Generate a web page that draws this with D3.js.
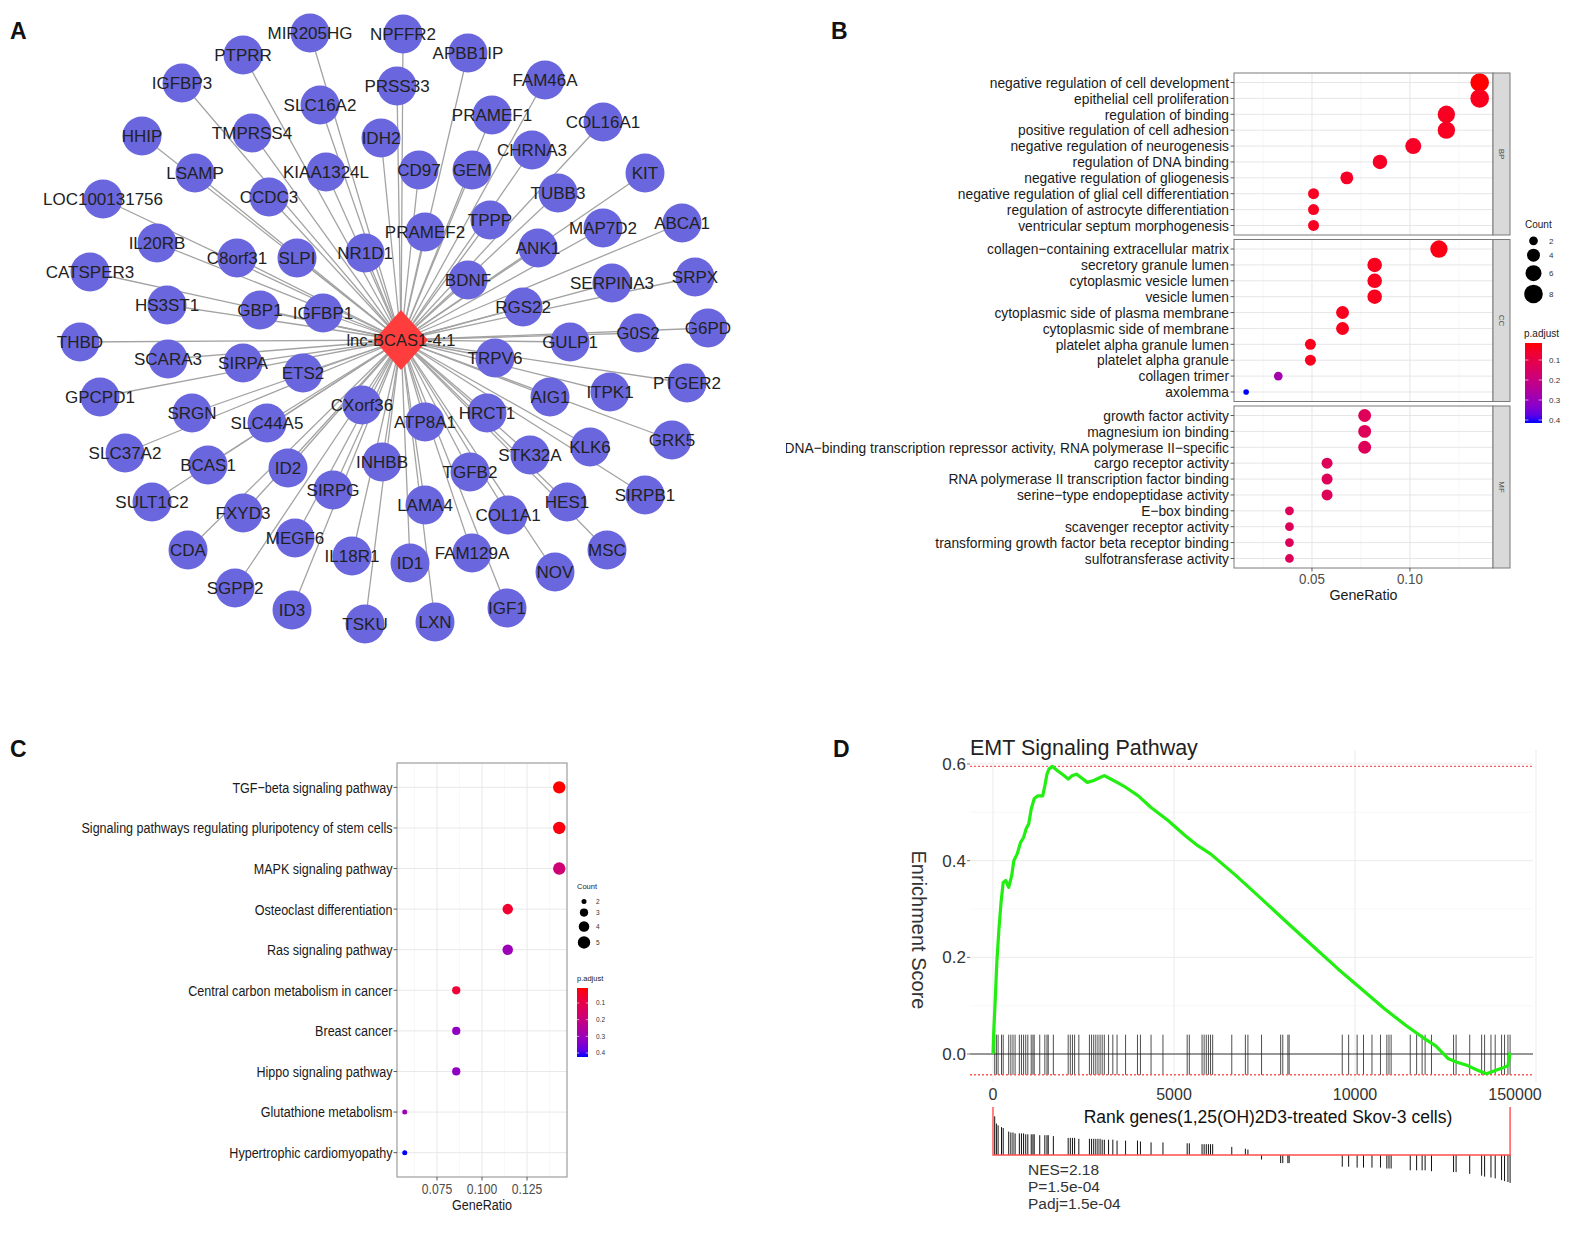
<!DOCTYPE html>
<html>
<head>
<meta charset="utf-8">
<script src="https://cdn.jsdelivr.net/npm/d3@7/dist/d3.min.js"></script>
<style>
  body { margin: 0; background: #fff; }
  svg { display: block; }
  text { font-family: "Liberation Sans", Arial, sans-serif; }
</style>
</head>
<body>
<div id="fig"></div>
<script>
// ---------- panel A : lncRNA - mRNA network ----------
const hubName = "lnc-BCAS1-4:1";
// gene, layout x, layout y (relative to the hub)
const geneNames = ["MIR205HG","NPFFR2","PTPRR","APBB1IP","IGFBP3","FAM46A","PRSS33","SLC16A2","PRAMEF1","COL16A1",
  "HHIP","TMPRSS4","IDH2","CHRNA3","CD97","GEM","KIT","LSAMP","KIAA1324L","TUBB3",
  "CCDC3","LOC100131756","TPPP","ABCA1","MAP7D2","PRAMEF2","IL20RB","ANK1","NR1D1","C8orf31",
  "SLPI","CATSPER3","SRPX","BDNF","SERPINA3","HS3ST1","RGS22","GBP1","IGFBP1","G6PD",
  "G0S2","THBD","GULP1","SCARA3","TRPV6","SIRPA","ETS2","PTGER2","ITPK1","AIG1",
  "GPCPD1","CXorf36","SRGN","HRCT1","ATP8A1","SLC44A5","GRK5","KLK6","SLC37A2","STK32A",
  "INHBB","BCAS1","ID2","TGFB2","SIRPG","SIRPB1","SULT1C2","HES1","LAMA4","FXYD3",
  "COL1A1","MEGF6","CDA","MSC","FAM129A","IL18R1","ID1","NOV","SGPP2","IGF1",
  "ID3","LXN","TSKU"];
const geneLayoutX = [-91,2,-158,67,-219,144,-4,-81,91,202,
  -259,-149,-20,131,18,71,244,-206,-75,157,
  -132,-298,89,281,202,24,-244,137,-36,-164,
  -104,-311,294,67,211,-234,122,-141,-78,307,
  237,-321,169,-233,94,-158,-98,286,209,149,
  -301,-39,-209,86,24,-134,271,189,-276,129,
  -19,-193,-113,69,-68,244,-249,166,24,-158,
  107,-106,-213,206,71,-49,9,154,-166,106,
  -109,34,-36];
const geneLayoutY = [-307,-306,-285,-287,-257,-260,-254,-235,-225,-218,
  -204,-207,-202,-190,-170,-170,-167,-167,-168,-147,
  -143,-141,-120,-117,-112,-108,-97,-92,-87,-82,
  -82,-68,-63,-60,-57,-35,-33,-30,-27,-12,
  -7,2,2,19,18,23,33,43,52,57,
  57,65,73,73,82,83,100,107,113,115,
  122,125,128,132,150,155,162,162,165,173,
  175,198,210,210,213,216,223,232,248,268,
  270,282,284];

// ---------- panel B : GO enrichment ----------
const goOntologies = ["BP", "CC", "MF"];
const bpTerms = ["negative regulation of cell development","epithelial cell proliferation","regulation of binding",
  "positive regulation of cell adhesion","negative regulation of neurogenesis","regulation of DNA binding",
  "negative regulation of gliogenesis","negative regulation of glial cell differentiation",
  "regulation of astrocyte differentiation","ventricular septum morphogenesis"];
const bpRatio = [0.1356,0.1356,0.1186,0.1186,0.1017,0.0847,0.0678,0.0508,0.0508,0.0508];
const bpCount = [8,8,7,7,6,5,4,3,3,3];
const bpPadj = [0.015,0.04,0.045,0.045,0.05,0.05,0.05,0.045,0.045,0.045];
const ccTerms = ["collagen\u2212containing extracellular matrix","secretory granule lumen","cytoplasmic vesicle lumen",
  "vesicle lumen","cytoplasmic side of plasma membrane","cytoplasmic side of membrane",
  "platelet alpha granule lumen","platelet alpha granule","collagen trimer","axolemma"];
const ccRatio = [0.1148,0.0820,0.0820,0.0820,0.0656,0.0656,0.0492,0.0492,0.0328,0.0164];
const ccCount = [7,5,5,5,4,4,3,3,2,1];
const ccPadj = [0.03,0.04,0.04,0.04,0.04,0.04,0.04,0.04,0.28,0.415];
const mfTerms = ["growth factor activity","magnesium ion binding",
  "DNA\u2212binding transcription repressor activity, RNA polymerase II\u2212specific",
  "cargo receptor activity","RNA polymerase II transcription factor binding","serine\u2212type endopeptidase activity",
  "E\u2212box binding","scavenger receptor activity","transforming growth factor beta receptor binding",
  "sulfotransferase activity"];
const mfRatio = [0.0769,0.0769,0.0769,0.0577,0.0577,0.0577,0.0385,0.0385,0.0385,0.0385];
const mfCount = [4,4,4,3,3,3,2,2,2,2];
const mfPadj = [0.13,0.13,0.13,0.13,0.13,0.13,0.13,0.13,0.13,0.13];
const goXTicks = [0.05, 0.10];
const goCountBreaks = [2, 4, 6, 8];
const goPadjBreaks = [0.1, 0.2, 0.3, 0.4];

// ---------- panel C : KEGG enrichment ----------
const keggTerms = ["TGF\u2212beta signaling pathway","Signaling pathways regulating pluripotency of stem cells",
  "MAPK signaling pathway","Osteoclast differentiation","Ras signaling pathway",
  "Central carbon metabolism in cancer","Breast cancer","Hippo signaling pathway",
  "Glutathione metabolism","Hypertrophic cardiomyopathy"];
const keggRatio = [0.1429,0.1429,0.1429,0.1143,0.1143,0.0857,0.0857,0.0857,0.0571,0.0571];
const keggCount = [5,5,5,4,4,3,3,3,2,2];
const keggPadj = [0.01,0.02,0.18,0.06,0.30,0.07,0.32,0.32,0.30,0.424];
const keggXTicks = [0.075, 0.100, 0.125];
const keggCountBreaks = [2, 3, 4, 5];
const keggPadjBreaks = [0.1, 0.2, 0.3, 0.4];

// ---------- panel D : GSEA running score ----------
const esRank = [0,23,59,106,164,223,282,352,434,516,575,669,763,845,915,986,1056,1138,1232,1373,
  1432,1491,1549,1643,1784,1960,2077,2195,2312,2430,2606,2782,2958,3075,3251,3427,3662,4014,4366,4836,
  5305,5657,6009,6714,7418,8122,8826,9531,10235,10822,11408,11878,12230,12582,12817,13110,13404,13638,13873,14108,
  14225,14284];
const esScore = [0,0.05,0.107,0.19,0.259,0.314,0.355,0.359,0.345,0.369,0.40,0.414,0.438,0.448,0.466,0.476,0.507,0.528,0.534,0.534,
  0.555,0.579,0.59,0.595,0.586,0.576,0.569,0.576,0.579,0.572,0.562,0.566,0.572,0.576,0.569,0.562,0.552,0.534,0.510,0.483,
  0.452,0.431,0.414,0.369,0.321,0.272,0.224,0.176,0.131,0.093,0.059,0.034,0.017,-0.010,-0.017,-0.024,-0.034,-0.041,-0.034,-0.028,
  -0.024,0.003];
const hitRank = [47,94,141,235,282,434,493,552,610,728,786,845,904,962,1056,1103,1138,1291,1432,1491,
  1526,1667,2077,2136,2195,2254,2371,2664,2723,2782,2840,2899,2958,3016,3075,3192,3310,3427,3662,3991,
  4073,4366,4695,5364,5423,5775,5833,5892,5951,6009,6068,6596,6972,7042,7418,7946,8005,8146,8181,9648,
  9824,10059,10235,10469,10704,10880,10939,10998,11526,11702,11854,11937,12113,12723,12793,13169,13498,13580,13756,13873,
  14049,14131,14225,14284];
const hitMetric = [4.3,3.5,3.3,3.1,3.0,2.6,2.5,2.5,2.4,2.4,2.4,2.4,2.3,2.3,2.3,2.3,2.3,2.2,2.2,2.2,
  2.2,2.1,1.9,1.9,1.9,1.9,1.8,1.8,1.8,1.8,1.8,1.8,1.8,1.7,1.7,1.7,1.7,1.6,1.6,1.6,
  1.5,1.4,1.4,1.3,1.3,1.2,1.2,1.2,1.2,1.2,1.2,0.9,0.7,0.6,-0.5,-0.9,-0.9,-0.9,-0.9,-1.3,
  -1.3,-1.4,-1.4,-1.4,-1.4,-1.5,-1.5,-1.5,-1.7,-1.7,-1.7,-1.7,-1.8,-1.9,-1.9,-2.1,-2.3,-2.4,-2.5,-2.6,
  -2.8,-2.9,-3.0,-3.1];
const esMax = 0.595, esMin = -0.043, listSize = 14284;
const rankTicks = [0, 5000, 10000, 15000];
const rankTickLabels = ["0", "5000", "10000", "150000"];
const esTicks = [0.0, 0.2, 0.4, 0.6];
const gseaStats = ["NES=2.18", "P=1.5e-04", "Padj=1.5e-04"];

// =====================================================================
const W = 1569, H = 1240;
const svg = d3.select("#fig").append("svg")
  .attr("width", W).attr("height", H)
  .attr("viewBox", `0 0 ${W} ${H}`);
svg.append("rect").attr("width", W).attr("height", H).attr("fill", "#fff");
const defs = svg.append("defs");

// panel letters
[["A", 10, 39], ["B", 831, 39], ["C", 10, 757], ["D", 833, 757]].forEach(d => {
  svg.append("text").attr("x", d[1]).attr("y", d[2])
    .attr("font-size", 23).attr("font-weight", "bold").attr("fill", "#111").text(d[0]);
});

// ---------------- A ----------------
(function drawNetwork() {
  const g = svg.append("g");
  const x = d3.scaleLinear().domain([-400, 400]).range([1, 801]);
  const y = d3.scaleLinear().domain([-340, 340]).range([0, 680]);
  const nodes = geneNames.map((n, i) => ({ name: n, x: x(geneLayoutX[i]), y: y(geneLayoutY[i]) }));
  const hx = x(0), hy = y(0);

  g.selectAll("line.edge").data(nodes).enter().append("line")
    .attr("class", "edge")
    .attr("x1", hx).attr("y1", hy)
    .attr("x2", d => d.x).attr("y2", d => d.y)
    .attr("stroke", "#a3a3a3").attr("stroke-width", 1.3);

  g.selectAll("circle.node").data(nodes).enter().append("circle")
    .attr("class", "node")
    .attr("cx", d => d.x).attr("cy", d => d.y).attr("r", 19.5)
    .attr("fill", "#6a66dd");

  g.append("path")
    .attr("d", `M${hx},${hy - 30} L${hx + 27},${hy} L${hx},${hy + 30} L${hx - 27},${hy} Z`)
    .attr("fill", "#ff3d3d");

  g.selectAll("text.lab").data(nodes).enter().append("text")
    .attr("class", "lab")
    .attr("x", d => d.x).attr("y", d => d.y).attr("dy", "0.36em")
    .attr("text-anchor", "middle").attr("font-size", 17).attr("fill", "#222")
    .text(d => d.name);

  g.append("text").attr("x", hx).attr("y", hy).attr("dy", "0.36em")
    .attr("text-anchor", "middle").attr("font-size", 16.5).attr("fill", "#222").text(hubName);
})();

// shared helpers for the dot plots
function areaSize(domain, rRange) {
  const a = d3.scaleLinear().domain(domain).range([rRange[0] * rRange[0], rRange[1] * rRange[1]]);
  return v => Math.sqrt(a(v));
}
function padjColor(domain) {
  return d3.scaleLinear().domain(domain).range(["#ff0000", "#0000ff"]).interpolate(d3.interpolateLab);
}
// the source figure squeezed the ggplot panels sideways: draw text condensed
function narrowText(g, x, y, txt, fs, sx, anchor, fill) {
  return g.append("text")
    .attr("transform", `translate(${x},${y}) scale(${sx},1)`)
    .attr("dy", "0.35em").attr("text-anchor", anchor)
    .attr("font-size", fs).attr("fill", fill).text(txt);
}
function colorbar(g, id, col, domain, x0, y0, w, h, breaks, fs, labX) {
  const grad = defs.append("linearGradient").attr("id", id)
    .attr("x1", 0).attr("y1", 0).attr("x2", 0).attr("y2", 1);
  d3.range(0, 1.0001, 0.1).forEach(t => {
    grad.append("stop").attr("offset", t)
      .attr("stop-color", col(domain[0] + t * (domain[1] - domain[0])));
  });
  g.append("rect").attr("x", x0).attr("y", y0).attr("width", w).attr("height", h)
    .attr("fill", `url(#${id})`);
  const py = d3.scaleLinear().domain(domain).range([y0, y0 + h]);
  breaks.forEach(b => {
    g.append("line").attr("x1", x0).attr("x2", x0 + w * 0.2)
      .attr("y1", py(b)).attr("y2", py(b)).attr("stroke", "#fff").attr("stroke-width", 0.6);
    g.append("line").attr("x1", x0 + w * 0.8).attr("x2", x0 + w)
      .attr("y1", py(b)).attr("y2", py(b)).attr("stroke", "#fff").attr("stroke-width", 0.6);
    g.append("text").attr("x", labX).attr("y", py(b)).attr("dy", "0.35em")
      .attr("font-size", fs).attr("fill", "#333").text(b.toFixed(1));
  });
}

// ---------------- B ----------------
(function drawGO() {
  defs.append("clipPath").attr("id", "clipB")
    .append("rect").attr("x", 786).attr("y", 0).attr("width", W - 786).attr("height", 700);
  const g = svg.append("g").attr("clip-path", "url(#clipB)");
  const x = d3.scaleLinear().domain([0.0102, 0.1424]).range([1234, 1493]);
  const facet = d3.scaleBand().domain(goOntologies).range([73, 568]).paddingInner(0.027);
  const size = areaSize([1, 8], [2.8, 9.3]);
  const padjDomain = [0.015, 0.415];
  const col = padjColor(padjDomain);
  const sets = {
    BP: { terms: bpTerms, ratio: bpRatio, count: bpCount, padj: bpPadj },
    CC: { terms: ccTerms, ratio: ccRatio, count: ccCount, padj: ccPadj },
    MF: { terms: mfTerms, ratio: mfRatio, count: mfCount, padj: mfPadj }
  };
  const x0 = x.range()[0], x1 = x.range()[1];

  goOntologies.forEach(ont => {
    const s = sets[ont];
    const top = facet(ont), bot = top + facet.bandwidth();
    const y = d3.scalePoint().domain(s.terms).range([top, bot]).padding(0.6);

    // grid
    [0.025, 0.075, 0.125].forEach(v => g.append("line")
      .attr("x1", x(v)).attr("x2", x(v)).attr("y1", top).attr("y2", bot)
      .attr("stroke", "#f2f2f2").attr("stroke-width", 0.6));
    goXTicks.forEach(v => g.append("line")
      .attr("x1", x(v)).attr("x2", x(v)).attr("y1", top).attr("y2", bot)
      .attr("stroke", "#e6e6e6").attr("stroke-width", 1));
    s.terms.forEach(t => g.append("line")
      .attr("x1", x0).attr("x2", x1).attr("y1", y(t)).attr("y2", y(t))
      .attr("stroke", "#e6e6e6").attr("stroke-width", 1));

    // dots
    g.selectAll(null).data(s.terms).enter().append("circle")
      .attr("cx", (d, i) => x(s.ratio[i])).attr("cy", d => y(d))
      .attr("r", (d, i) => size(s.count[i]))
      .attr("fill", (d, i) => col(s.padj[i]));

    // frame + strip
    g.append("rect").attr("x", x0).attr("y", top).attr("width", x1 - x0).attr("height", bot - top)
      .attr("fill", "none").attr("stroke", "#7a7a7a").attr("stroke-width", 1);
    g.append("rect").attr("x", x1).attr("y", top).attr("width", 17).attr("height", bot - top)
      .attr("fill", "#d9d9d9").attr("stroke", "#7a7a7a").attr("stroke-width", 1);
    g.append("text").attr("transform", `translate(${x1 + 8.5},${(top + bot) / 2}) rotate(90)`)
      .attr("text-anchor", "middle").attr("dy", "0.35em")
      .attr("font-size", 8).attr("fill", "#4d4d4d").text(ont);

    // y labels
    s.terms.forEach(t => {
      g.append("line").attr("x1", x0 - 3.5).attr("x2", x0).attr("y1", y(t)).attr("y2", y(t))
        .attr("stroke", "#333").attr("stroke-width", 0.8);
      narrowText(g, x0 - 5, y(t), t, 15, 0.92, "end", "#1a1a1a");
    });
  });

  // x axis
  const bottom = facet("MF") + facet.bandwidth();
  goXTicks.forEach(v => {
    g.append("line").attr("x1", x(v)).attr("x2", x(v)).attr("y1", bottom).attr("y2", bottom + 3.5)
      .attr("stroke", "#333").attr("stroke-width", 0.8);
    narrowText(g, x(v), bottom + 11, v.toFixed(2), 14.5, 0.92, "middle", "#4d4d4d");
  });
  narrowText(g, (x0 + x1) / 2, bottom + 27, "GeneRatio", 15.5, 0.92, "middle", "#1a1a1a");

  // legends
  g.append("text").attr("x", 1525).attr("y", 228).attr("font-size", 10).attr("fill", "#1a1a1a").text("Count");
  let cy = 236.5;
  goCountBreaks.forEach((c, i) => {
    if (i > 0) cy += size(goCountBreaks[i - 1]) + size(c) + 3.5;
    else cy += size(c);
    g.append("circle").attr("cx", 1533.5).attr("cy", cy).attr("r", size(c)).attr("fill", "#000");
    g.append("text").attr("x", 1549).attr("y", cy).attr("dy", "0.35em")
      .attr("font-size", 8).attr("fill", "#333").text(c);
  });
  g.append("text").attr("x", 1524).attr("y", 337).attr("font-size", 10).attr("fill", "#1a1a1a").text("p.adjust");
  colorbar(g, "gradB", col, padjDomain, 1525, 343, 17, 80, goPadjBreaks, 8, 1549);
})();

// ---------------- C ----------------
(function drawKEGG() {
  const g = svg.append("g");
  const x = d3.scaleLinear().domain([0.0528, 0.1472]).range([397, 567]);
  const y = d3.scalePoint().domain(keggTerms).range([763, 1177]).padding(0.6);
  const size = areaSize([2, 5], [2.5, 6.2]);
  const padjDomain = [0.01, 0.424];
  const col = padjColor(padjDomain);
  const x0 = 397, x1 = 567, top = 763, bot = 1177;

  [0.0625, 0.0875, 0.1125, 0.1375].forEach(v => g.append("line")
    .attr("x1", x(v)).attr("x2", x(v)).attr("y1", top).attr("y2", bot)
    .attr("stroke", "#f3f3f3").attr("stroke-width", 0.6));
  keggXTicks.forEach(v => g.append("line")
    .attr("x1", x(v)).attr("x2", x(v)).attr("y1", top).attr("y2", bot)
    .attr("stroke", "#e8e8e8").attr("stroke-width", 1));
  keggTerms.forEach(t => g.append("line")
    .attr("x1", x0).attr("x2", x1).attr("y1", y(t)).attr("y2", y(t))
    .attr("stroke", "#e8e8e8").attr("stroke-width", 1));

  g.selectAll(null).data(keggTerms).enter().append("circle")
    .attr("cx", (d, i) => x(keggRatio[i])).attr("cy", d => y(d))
    .attr("r", (d, i) => size(keggCount[i]))
    .attr("fill", (d, i) => col(keggPadj[i]));

  g.append("rect").attr("x", x0).attr("y", top).attr("width", x1 - x0).attr("height", bot - top)
    .attr("fill", "none").attr("stroke", "#8a8a8a").attr("stroke-width", 1);

  keggTerms.forEach(t => {
    g.append("line").attr("x1", x0 - 3.5).attr("x2", x0).attr("y1", y(t)).attr("y2", y(t))
      .attr("stroke", "#333").attr("stroke-width", 0.8);
    narrowText(g, x0 - 4.5, y(t), t, 15.5, 0.81, "end", "#1a1a1a");
  });
  keggXTicks.forEach(v => {
    g.append("line").attr("x1", x(v)).attr("x2", x(v)).attr("y1", bot).attr("y2", bot + 3.5)
      .attr("stroke", "#333").attr("stroke-width", 0.8);
    narrowText(g, x(v), bot + 12, v.toFixed(3), 15, 0.81, "middle", "#4d4d4d");
  });
  narrowText(g, (x0 + x1) / 2, bot + 28, "GeneRatio", 15.5, 0.81, "middle", "#1a1a1a");

  g.append("text").attr("x", 577).attr("y", 889).attr("font-size", 7.5).attr("fill", "#1a1a1a").text("Count");
  let cy = 899;
  keggCountBreaks.forEach((c, i) => {
    if (i > 0) cy += size(keggCountBreaks[i - 1]) + size(c) + 4.5;
    else cy += size(c);
    g.append("circle").attr("cx", 584).attr("cy", cy).attr("r", size(c)).attr("fill", "#000");
    g.append("text").attr("x", 596).attr("y", cy).attr("dy", "0.35em")
      .attr("font-size", 6.5).attr("fill", "#333").text(c);
  });
  g.append("text").attr("x", 577).attr("y", 981).attr("font-size", 7.5).attr("fill", "#1a1a1a").text("p.adjust");
  colorbar(g, "gradC", col, padjDomain, 577, 988, 11, 69, keggPadjBreaks, 6.5, 596);
})();

// ---------------- D ----------------
(function drawGSEA() {
  const g = svg.append("g");
  const x = d3.scaleLinear().domain([0, 15000]).range([993, 1536]);
  const y = d3.scaleLinear().domain([0, 0.6]).range([1054, 764]);
  const px0 = 970, px1 = 1533, pTop = 750, pBot = 1082;

  // grid
  [0.1, 0.3, 0.5].forEach(v => g.append("line")
    .attr("x1", px0).attr("x2", px1).attr("y1", y(v)).attr("y2", y(v))
    .attr("stroke", "#f4f4f4").attr("stroke-width", 0.6));
  esTicks.forEach(v => g.append("line")
    .attr("x1", px0).attr("x2", px1).attr("y1", y(v)).attr("y2", y(v))
    .attr("stroke", "#ebebeb").attr("stroke-width", 1));
  rankTicks.forEach(v => g.append("line")
    .attr("x1", x(v)).attr("x2", x(v)).attr("y1", pTop).attr("y2", pBot)
    .attr("stroke", "#ebebeb").attr("stroke-width", 1));

  // zero line
  g.append("line").attr("x1", px0).attr("x2", px1).attr("y1", y(0)).attr("y2", y(0))
    .attr("stroke", "#3a3a3a").attr("stroke-width", 1.1);

  // hits
  g.selectAll(null).data(hitRank).enter().append("line")
    .attr("x1", d => x(d)).attr("x2", d => x(d))
    .attr("y1", y(0.04)).attr("y2", y(esMin))
    .attr("stroke", "#222").attr("stroke-width", 0.8);

  // max/min dashed lines
  [esMax, esMin].forEach(v => g.append("line")
    .attr("x1", px0).attr("x2", px1).attr("y1", y(v)).attr("y2", y(v))
    .attr("stroke", "#ff5a5a").attr("stroke-width", 1.4).attr("stroke-dasharray", "2,2"));

  // running ES
  const line = d3.line().x(d => x(d[0])).y(d => y(d[1]));
  g.append("path").datum(esRank.map((r, i) => [r, esScore[i]]))
    .attr("d", line).attr("fill", "none")
    .attr("stroke", "#22ee11").attr("stroke-width", 3.2).attr("stroke-linejoin", "round");

  // y axis
  esTicks.forEach(v => {
    g.append("line").attr("x1", px0 - 3).attr("x2", px0).attr("y1", y(v)).attr("y2", y(v))
      .attr("stroke", "#555").attr("stroke-width", 0.8);
    g.append("text").attr("x", px0 - 4).attr("y", y(v)).attr("dy", "0.36em")
      .attr("text-anchor", "end").attr("font-size", 17).attr("fill", "#333").text(v.toFixed(1));
  });
  g.append("text").attr("transform", `translate(912,930) rotate(90)`)
    .attr("text-anchor", "middle").attr("font-size", 20).attr("fill", "#333").text("Enrichment Score");
  g.append("text").attr("x", 970).attr("y", 755).attr("font-size", 21.5).attr("fill", "#222")
    .text("EMT Signaling Pathway");

  // x axis labels
  rankTicks.forEach((v, i) => {
    g.append("text").attr("x", x(v) - (i === rankTicks.length - 1 ? 21 : 0)).attr("y", 1100)
      .attr("text-anchor", "middle").attr("font-size", 16).attr("fill", "#333").text(rankTickLabels[i]);
  });
  g.append("text").attr("x", 1268).attr("y", 1123).attr("text-anchor", "middle")
    .attr("font-size", 17.5).attr("fill", "#111").text("Rank genes(1,25(OH)2D3-treated Skov-3 cells)");

  // ranked list metric
  const m = d3.scaleLinear().domain([0, 1]).range([1155, 1146]);
  g.selectAll(null).data(hitRank).enter().append("line")
    .attr("x1", d => x(d)).attr("x2", d => x(d))
    .attr("y1", m(0)).attr("y2", (d, i) => m(hitMetric[i]))
    .attr("stroke", "#111").attr("stroke-width", 1);
  g.append("path")
    .attr("d", `M${x(0)},1107 V${m(0)} H${x(listSize)} V1107`)
    .attr("fill", "none").attr("stroke", "#ff4d4d").attr("stroke-width", 1.4);

  gseaStats.forEach((s, i) => g.append("text").attr("x", 1028).attr("y", 1175 + i * 17)
    .attr("font-size", 15.5).attr("fill", "#333").text(s));
})();
</script>
</body>
</html>
